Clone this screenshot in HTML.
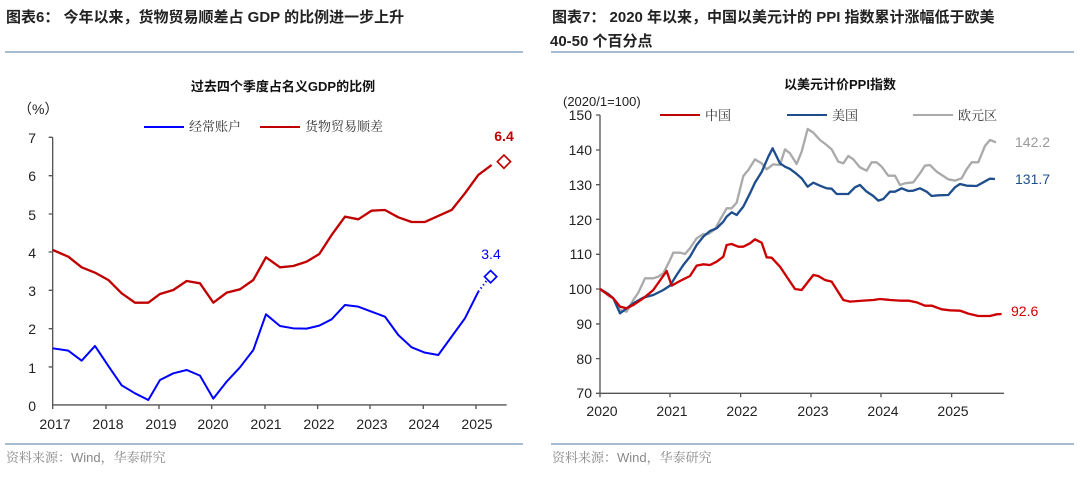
<!DOCTYPE html>
<html><head><meta charset="utf-8"><style>
body{margin:0;background:#fff;width:1080px;height:472px;overflow:hidden;font-family:"Liberation Sans","Noto Sans CJK SC",sans-serif}
</style></head><body>
<svg width="1080" height="472" xmlns="http://www.w3.org/2000/svg" font-family="Liberation Sans, Noto Sans CJK SC, sans-serif">
<text x="6" y="22" font-size="15" font-weight="bold" fill="#222">图表6：  今年以来，货物贸易顺差占 GDP 的比例进一步上升</text>
<text x="552" y="22" font-size="15" font-weight="bold" fill="#222">图表7：  2020  年以来，中国以美元计的  PPI  指数累计涨幅低于欧美</text>
<text x="550" y="46" font-size="15" font-weight="bold" fill="#222">40-50 个百分点</text>
<line x1="5" y1="52" x2="523" y2="52" stroke="#a9bbd0" stroke-width="2"/>
<line x1="551" y1="52" x2="1074" y2="52" stroke="#a9bbd0" stroke-width="2"/>
<line x1="5" y1="444" x2="523" y2="444" stroke="#a9bbd0" stroke-width="2"/>
<line x1="551" y1="444" x2="1074" y2="444" stroke="#a9bbd0" stroke-width="2"/>
<g font-family="Liberation Sans, Noto Serif CJK SC, serif">
<text x="6" y="462" font-size="13" fill="#888">资料来源：Wind，华泰研究</text>
<text x="552" y="462" font-size="13" fill="#888">资料来源：Wind，华泰研究</text>
</g>

<!-- left chart -->
<text x="283" y="91" font-size="13" font-weight="bold" text-anchor="middle" fill="#111">过去四个季度占名义GDP的比例</text>
<text x="18" y="114" font-size="14" fill="#222">（%）</text>
<g font-family="Liberation Sans, Noto Serif CJK SC, serif">
<line x1="144" y1="127" x2="184" y2="127" stroke="#0000ff" stroke-width="2"/>
<text x="189" y="131" font-size="13" fill="#333">经常账户</text>
<line x1="260" y1="127" x2="300" y2="127" stroke="#c00000" stroke-width="2"/>
<text x="305" y="131" font-size="13" fill="#333">货物贸易顺差</text>
</g>
<g font-size="14" fill="#222" text-anchor="end">
<text x="36" y="143">7</text><text x="36" y="181">6</text><text x="36" y="220">5</text><text x="36" y="258">4</text><text x="36" y="296">3</text><text x="36" y="334">2</text><text x="36" y="373">1</text><text x="36" y="411">0</text>
</g>
<g font-size="14" fill="#222" text-anchor="middle">
<text x="55" y="429">2017</text><text x="108" y="429">2018</text><text x="161" y="429">2019</text><text x="213" y="429">2020</text><text x="266" y="429">2021</text><text x="319" y="429">2022</text><text x="372" y="429">2023</text><text x="424" y="429">2024</text><text x="477" y="429">2025</text>
</g>
<g transform="translate(30,130) scale(0.3333)" fill="none">
<path d="M68 22V825H1430 M56 22H68 M56 137H68 M56 252H68 M56 366H68 M56 481H68 M56 596H68 M56 711H68 M68 825v12 M228 825v12 M387 825v12 M545 825v12 M705 825v12 M863 825v12 M1020 825v12 M1180 825v12 M1338 825v12" stroke="#555" stroke-width="4"/>
<polyline stroke="#c00000" stroke-width="7" stroke-linejoin="round" points="68,360 115,380 155,412 195,428 235,450 275,490 315,518 355,518 390,492 430,480 470,453 510,460 550,518 590,488 630,478 670,450 708,382 750,412 790,408 830,395 868,372 905,315 945,260 985,268 1025,242 1065,240 1105,262 1145,276 1185,276 1225,258 1265,240 1305,190 1345,135 1385,105"/>
<polyline stroke="#0000ff" stroke-width="6" stroke-linejoin="round" points="68,655 115,662 155,692 195,648 235,708 275,766 315,790 355,810 390,750 430,730 470,720 510,737 550,806 590,755 630,712 670,660 708,553 750,588 790,595 830,596 868,587 905,568 945,525 985,530 1025,545 1065,560 1105,615 1145,652 1185,668 1225,675 1265,620 1305,565 1345,485"/>
<line x1="1345" y1="485" x2="1370" y2="452" stroke="#0000ff" stroke-width="6" stroke-dasharray="4 8"/>
<rect x="1408" y="81" width="28" height="28" transform="rotate(45 1422 95)" stroke="#c00000" stroke-width="5" fill="#fff"/>
<rect x="1369" y="427" width="26" height="26" transform="rotate(45 1382 440)" stroke="#0000ff" stroke-width="5" fill="#fff"/>
</g>
<text x="504" y="141" font-size="14" font-weight="bold" fill="#c00000" text-anchor="middle">6.4</text>
<text x="491" y="259" font-size="14" fill="#0000ff" text-anchor="middle">3.4</text>

<!-- right chart -->
<text x="840" y="89" font-size="13" font-weight="bold" text-anchor="middle" fill="#111">以美元计价PPI指数</text>
<text x="563" y="106" font-size="13" fill="#222">(2020/1=100)</text>
<g font-family="Liberation Sans, Noto Serif CJK SC, serif">
<line x1="660" y1="115" x2="700" y2="115" stroke="#c00000" stroke-width="2"/>
<text x="705" y="120" font-size="13" fill="#333">中国</text>
<line x1="787" y1="115" x2="827" y2="115" stroke="#1f4e8c" stroke-width="2"/>
<text x="832" y="120" font-size="13" fill="#333">美国</text>
<line x1="913" y1="115" x2="953" y2="115" stroke="#aaa" stroke-width="2"/>
<text x="958" y="120" font-size="13" fill="#333">欧元区</text>
</g>
<g font-size="14" fill="#222" text-anchor="end">
<text x="592" y="120">150</text><text x="592" y="155">140</text><text x="592" y="190">130</text><text x="592" y="225">120</text><text x="592" y="259">110</text><text x="592" y="294">100</text><text x="592" y="329">90</text><text x="592" y="364">80</text><text x="592" y="398">70</text>
</g>
<g font-size="14" fill="#222" text-anchor="middle">
<text x="602" y="416">2020</text><text x="672" y="416">2021</text><text x="742" y="416">2022</text><text x="813" y="416">2023</text><text x="883" y="416">2024</text><text x="953" y="416">2025</text>
</g>
<g transform="translate(580,110) scale(0.3333)" fill="none">
<path d="M60 15V850H1272 M48 15H60 M48 120H60 M48 224H60 M48 328H60 M48 433H60 M48 537H60 M48 642H60 M48 746H60 M48 850H60 M60 850v12 M270 850v12 M482 850v12 M693 850v12 M903 850v12 M1115 850v12" stroke="#555" stroke-width="4"/>
<polyline stroke="#aaaaaa" stroke-width="7" stroke-linejoin="round" points="60,537 85,557 100,565 120,600 140,605 160,570 175,548 195,505 220,505 235,500 250,490 270,450 280,428 300,428 315,432 330,415 350,385 370,372 385,372 405,358 420,330 440,295 455,295 470,278 490,198 505,180 525,148 545,160 560,178 580,163 600,165 615,118 630,130 650,162 665,125 683,57 700,68 720,90 740,105 755,118 775,155 790,160 805,138 820,148 840,172 860,182 875,157 890,157 905,170 925,197 945,197 960,225 975,220 1000,217 1020,190 1035,167 1050,165 1070,185 1090,198 1105,208 1125,212 1145,205 1160,178 1175,157 1195,157 1215,108 1230,90 1248,97"/>
<polyline stroke="#1f4e8c" stroke-width="7" stroke-linejoin="round" points="60,537 85,552 100,565 120,610 140,595 160,580 190,563 220,555 250,540 270,527 290,495 310,465 330,440 350,405 370,380 390,363 410,355 430,335 440,320 455,307 470,315 490,290 510,250 525,218 545,186 565,140 578,115 600,160 615,170 630,177 650,192 665,205 683,230 700,218 720,227 740,235 755,236 770,252 790,252 805,252 825,232 840,225 860,245 880,258 895,272 910,267 930,245 945,245 965,235 985,243 1000,242 1020,235 1040,245 1055,258 1075,256 1105,255 1125,232 1140,222 1160,227 1190,228 1210,217 1230,206 1245,207"/>
<polyline stroke="#cc0000" stroke-width="7" stroke-linejoin="round" points="60,537 100,565 120,590 140,595 160,585 190,565 220,540 260,483 275,527 300,513 330,498 350,467 370,463 390,465 410,455 430,440 440,405 455,402 475,410 490,410 510,400 525,388 545,398 560,442 575,443 600,470 620,500 645,537 665,540 700,495 715,498 735,510 755,515 790,570 810,575 850,572 880,570 900,567 930,570 960,572 985,572 1010,577 1035,587 1055,587 1085,598 1110,601 1140,602 1165,611 1195,618 1230,618 1250,613 1265,612"/>
</g>
<text x="1015" y="147" font-size="14" fill="#999">142.2</text>
<text x="1015" y="184" font-size="14" fill="#1f4e8c">131.7</text>
<text x="1011" y="316" font-size="14" fill="#cc0000">92.6</text>
</svg>
</body></html>
